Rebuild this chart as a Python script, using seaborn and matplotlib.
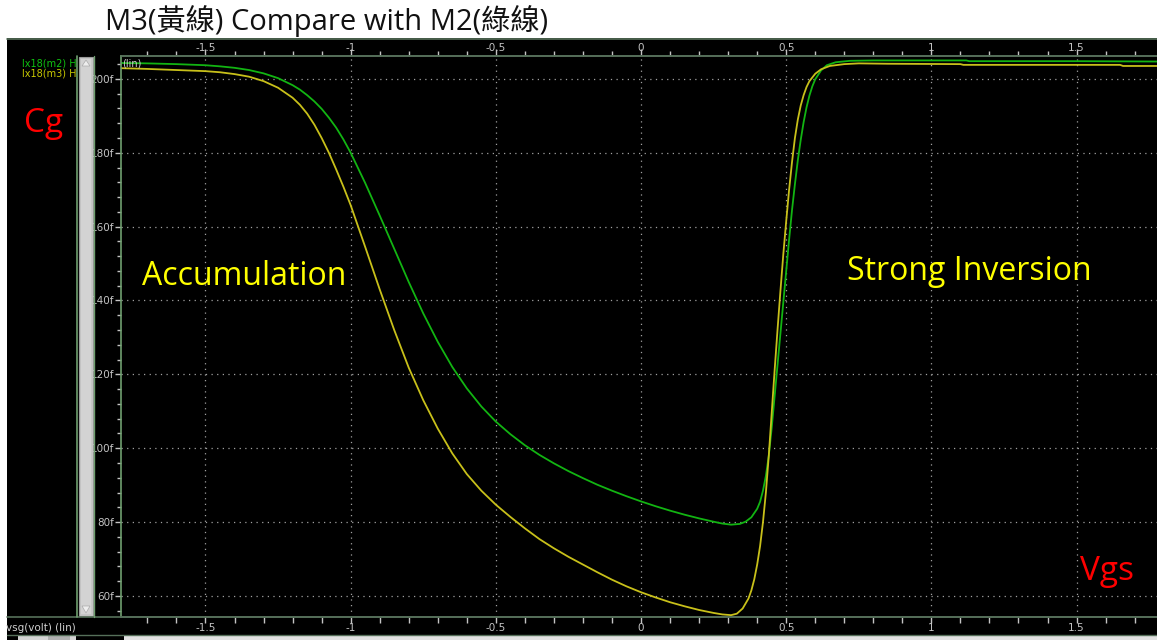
import matplotlib
matplotlib.use("Agg")
import matplotlib.pyplot as plt
from matplotlib.patches import Rectangle, Polygon
from matplotlib.lines import Line2D
from matplotlib.ticker import MultipleLocator, FixedLocator, FixedFormatter
import pandas as pd
import seaborn as sns

# ---- C-V sweep data (gate voltage in V, gate capacitance in fF) ----
vgs_m2 = [-1.79, -1.7, -1.6, -1.5, -1.45, -1.4, -1.35, -1.3, -1.25, -1.2,
          -1.175, -1.15, -1.125, -1.1, -1.075, -1.05, -1.025, -1.0, -0.95, -0.9,
          -0.85, -0.8, -0.75, -0.7, -0.65, -0.6, -0.55, -0.5, -0.45, -0.4,
          -0.35, -0.3, -0.25, -0.2, -0.15, -0.1, -0.05, 0.0, 0.05, 0.1,
          0.15, 0.2, 0.25, 0.28, 0.31, 0.34, 0.36, 0.38, 0.40, 0.41,
          0.42, 0.43, 0.44, 0.45, 0.46, 0.47, 0.48, 0.49, 0.50, 0.51,
          0.52, 0.53, 0.54, 0.55, 0.56, 0.57, 0.58, 0.59, 0.60, 0.62,
          0.64, 0.67, 0.72, 0.8, 1.0, 1.12, 1.13, 1.5, 1.78]
cg_m2 = [204.3, 204.2, 204.0, 203.7, 203.4, 203.0, 202.4, 201.5, 200.2, 198.3,
         197.1, 195.6, 193.9, 191.9, 189.5, 186.8, 183.6, 180.0, 171.8, 163.0,
         154.0, 145.0, 136.5, 128.8, 122.0, 116.2, 111.3, 107.2, 103.8, 100.8,
         98.2, 95.9, 93.8, 91.9, 90.1, 88.5, 87.0, 85.6, 84.3, 83.1,
         82.0, 81.0, 80.1, 79.6, 79.3, 79.5, 80.1, 81.3, 83.6, 85.5,
         88.5, 92.5, 98.0, 105.5, 114.0, 122.5, 131.0, 139.5, 148.0, 156.5,
         164.5, 171.5, 178.0, 183.5, 188.3, 192.3, 195.5, 198.0, 199.9, 202.3,
         203.7, 204.5, 204.9, 205.0, 205.0, 205.0, 204.8, 204.8, 204.7]

vgs_m3 = [-1.79, -1.7, -1.6, -1.5, -1.45, -1.4, -1.35, -1.3, -1.25, -1.2,
          -1.175, -1.15, -1.125, -1.1, -1.075, -1.05, -1.025, -1.0, -0.95, -0.9,
          -0.85, -0.8, -0.75, -0.7, -0.65, -0.6, -0.55, -0.5, -0.45, -0.4,
          -0.35, -0.3, -0.25, -0.2, -0.15, -0.1, -0.05, 0.0, 0.05, 0.1,
          0.15, 0.2, 0.25, 0.28, 0.31, 0.33, 0.35, 0.37, 0.38, 0.39,
          0.40, 0.41, 0.42, 0.43, 0.44, 0.45, 0.46, 0.47, 0.48, 0.49,
          0.50, 0.51, 0.52, 0.53, 0.54, 0.55, 0.56, 0.57, 0.58, 0.60,
          0.62, 0.65, 0.70, 0.75, 0.85, 1.10, 1.11, 1.65, 1.66, 1.78]
cg_m3 = [202.9, 202.7, 202.4, 202.1, 201.8, 201.3, 200.6, 199.4, 197.6, 194.9,
         193.0, 190.6, 187.6, 184.0, 180.0, 175.5, 170.8, 165.8, 154.5, 143.0,
         132.0, 121.8, 113.0, 105.3, 98.6, 93.0, 88.5, 84.7, 81.4, 78.3,
         75.4, 72.9, 70.6, 68.5, 66.4, 64.4, 62.6, 61.0, 59.6, 58.3,
         57.2, 56.2, 55.4, 55.0, 54.8, 55.2, 56.6, 59.3, 61.5, 64.5,
         68.5, 73.5, 80.0, 88.0, 98.0, 109.5, 121.0, 132.0, 142.5, 152.5,
         161.5, 170.0, 177.5, 184.0, 189.0, 192.8, 195.6, 197.8, 199.4, 201.4,
         202.6, 203.5, 204.0, 204.2, 204.1, 204.0, 203.8, 203.8, 203.5, 203.5]

x_ticks = [-1.5, -1.0, -0.5, 0.0, 0.5, 1.0, 1.5]
x_tick_labels = ["-1.5", "-1", "-0.5", "0", "0.5", "1", "1.5"]
y_ticks = [60, 80, 100, 120, 140, 160, 180, 200]
y_tick_labels = ["60f", "80f", "100f", "120f", "140f", "160f", "180f", "200f"]

series_names = ["lx18(m2)", "lx18(m3)"]
series_colors = ["#12b412", "#c8c01a"]

df = pd.concat([
    pd.DataFrame({"vgs": vgs_m2, "cg": cg_m2, "device": series_names[0]}),
    pd.DataFrame({"vgs": vgs_m3, "cg": cg_m3, "device": series_names[1]}),
], ignore_index=True)

# ---- figure in pixel units ----
W, H = 1157, 640
sns.set_style("dark")
plt.rcParams["font.family"] = ["DejaVu Sans"]
fig = plt.figure(figsize=(W / 100, H / 100), dpi=100, facecolor="white")


def fx(x):
    return x / W


def fy(y):
    return 1 - y / H


def frect(x0, y0, x1, y1, **kw):
    fig.patches.append(Rectangle((fx(x0), fy(y1)), fx(x1 - x0), (y1 - y0) / H,
                                 transform=fig.transFigure, **kw))


def fline(xs, ys, **kw):
    fig.lines.append(Line2D([fx(v) for v in xs], [fy(v) for v in ys],
                            transform=fig.transFigure, **kw))


# waveform viewer window background
frect(7, 38, W, H, facecolor="black", edgecolor="none", zorder=-5)

frame_col = "#56705a"
fline([7, W], [39, 39], color=frame_col, lw=1.2, zorder=10)
fline([7, W], [617, 617], color=frame_col, lw=1.2, zorder=10)
fline([7, W], [634.5, 634.5], color=frame_col, lw=1.0, zorder=10)
fline([77, 77], [56, 617], color="#6f9f6f", lw=1.2, zorder=10)
fline([94.5, 94.5], [56, 617], color="#6f9f6f", lw=1.0, zorder=10)

# vertical scrollbar
frect(79, 57, 93, 616, facecolor="#c6c6c6", edgecolor="#9a9a9a", lw=0.8, zorder=2)
frect(81, 59, 91, 614, facecolor="#d3d3d3", edgecolor="none", zorder=2)
fig.patches.append(Polygon([(fx(82), fy(66)), (fx(90), fy(66)), (fx(86), fy(60))],
                           closed=True, transform=fig.transFigure,
                           facecolor="#eeeeee", edgecolor="#aaaaaa", lw=0.5, zorder=3))
fig.patches.append(Polygon([(fx(82), fy(606)), (fx(90), fy(606)), (fx(86), fy(613))],
                           closed=True, transform=fig.transFigure,
                           facecolor="#eeeeee", edgecolor="#aaaaaa", lw=0.5, zorder=3))

# bottom scrollbar strip
frect(18, 636, 76, H, facecolor="#d4d4d4", edgecolor="none", zorder=1)
frect(48, 636, 70, H, facecolor="#b0b0b0", edgecolor="none", zorder=1)
frect(124, 636, W, H, facecolor="#e2e2e2", edgecolor="none", zorder=1)

# ---- plot area ----
ax_left, ax_right, ax_top, ax_bottom = 121, 1157, 56, 617
ax = fig.add_axes([fx(ax_left), fy(ax_bottom), fx(ax_right - ax_left),
                   (ax_bottom - ax_top) / H])
ax.set_zorder(5)
ax.set_facecolor("black")

sns.lineplot(data=df, x="vgs", y="cg", hue="device", hue_order=series_names,
             palette=series_colors, legend=False, ax=ax, linewidth=1.3,
             estimator=None, sort=True)

ax.set_xlim(-1.791, 1.777)
ax.set_ylim(54.3, 206.2)
ax.set_xlabel("")
ax.set_ylabel("")

tick_col = "#c4c4c4"
ax.xaxis.set_major_locator(FixedLocator(x_ticks))
ax.xaxis.set_major_formatter(FixedFormatter(x_tick_labels))
ax.xaxis.set_minor_locator(MultipleLocator(0.1))
ax.yaxis.set_major_locator(FixedLocator(y_ticks))
ax.yaxis.set_major_formatter(FixedFormatter(y_tick_labels))
ax.yaxis.set_minor_locator(MultipleLocator(4))

ax.tick_params(axis="x", which="both", top=False, bottom=True, labeltop=False,
               labelbottom=True, direction="out", colors=tick_col,
               labelsize=7.5, pad=0.5, length=4, width=1)
ax.tick_params(axis="y", which="both", left=True, right=False, direction="out",
               colors=tick_col, labelsize=7.5, pad=1)
ax.tick_params(axis="y", which="major", length=4, width=1)
ax.tick_params(axis="y", which="minor", length=3, width=1)

# top scale of the viewer (same voltage axis)
top = ax.secondary_xaxis("top")
top.xaxis.set_major_locator(FixedLocator(x_ticks))
top.xaxis.set_major_formatter(FixedFormatter(x_tick_labels))
top.xaxis.set_minor_locator(MultipleLocator(0.1))
top.tick_params(axis="x", which="both", direction="out", colors=tick_col,
                labelsize=7.5, pad=-2.5, width=1)
top.tick_params(axis="x", which="major", length=5)
top.tick_params(axis="x", which="minor", length=3.5)
top.spines["top"].set_color(frame_col)
top.spines["top"].set_linewidth(1.2)

ax.grid(True, which="major", color="#a0a0a0", linestyle=(0, (1, 3.5)), linewidth=0.9)
ax.grid(False, which="minor")
for side in ("top", "bottom", "left"):
    ax.spines[side].set_visible(True)
    ax.spines[side].set_color(frame_col)
    ax.spines[side].set_linewidth(1.2)
ax.spines["left"].set_color("#6f9f6f")
ax.spines["right"].set_visible(False)

# ---- viewer labels ----
fig.text(fx(22), fy(63), "lx18(m2) H", color="#10c010", fontsize=7, va="center", ha="left", zorder=10)
fig.text(fx(22), fy(73), "lx18(m3) H", color="#c8c800", fontsize=7, va="center", ha="left", zorder=10)
fig.text(fx(122), fy(63), "(lin)", color="#d0d0d0", fontsize=7, va="center", ha="left", zorder=10)
fig.text(fx(6), fy(628), "vsg(volt) (lin)", color="#d0d0d0", fontsize=7.5, va="center", ha="left", zorder=10)

# ---- annotations ----
latin_cjk = ["Open Sans", "Noto Sans CJK TC", "DejaVu Sans"]
fig.text(fx(105), fy(30), "M3(黃線) Compare with M2(綠線)", color="#111111",
         fontsize=21, family=latin_cjk, ha="left", va="baseline", zorder=10)
fig.text(fx(24), fy(132), "Cg", color="#ff0000", fontsize=24, family=latin_cjk,
         ha="left", va="baseline", zorder=10)
fig.text(fx(1080), fy(580), "Vgs", color="#ff0000", fontsize=24, family=latin_cjk,
         ha="left", va="baseline", zorder=10)
fig.text(fx(142), fy(285), "Accumulation", color="#ffff00", fontsize=23,
         family=latin_cjk, ha="left", va="baseline", zorder=10)
fig.text(fx(847), fy(280), "Strong Inversion", color="#ffff00", fontsize=23,
         family=latin_cjk, ha="left", va="baseline", zorder=10)

fig.savefig("out.png", dpi=100, facecolor=fig.get_facecolor())
